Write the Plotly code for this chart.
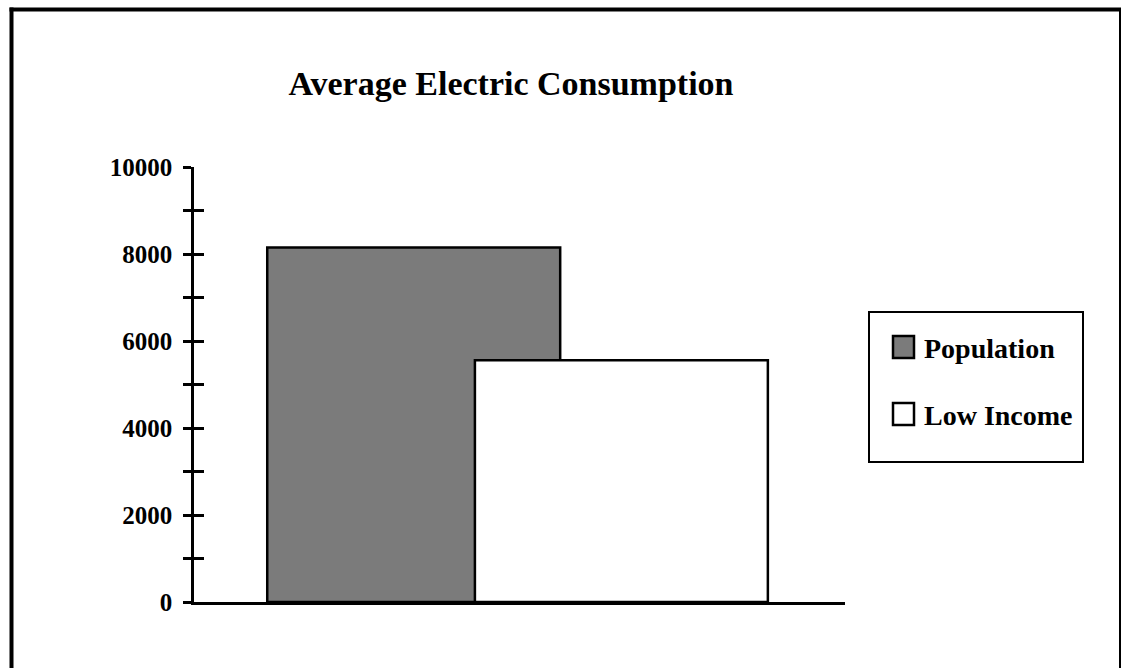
import plotly.graph_objects as go

# Data
series_names = ["Population", "Low Income"]
series_values = [8150, 5560]
series_fills = ["#7b7b7b", "#ffffff"]
category = ["Average Electric Consumption"]
tick_values = [0, 1000, 2000, 3000, 4000, 5000, 6000, 7000, 8000, 9000, 10000]
tick_labels = ["0", "", "2000", "", "4000", "", "6000", "", "8000", "", "10000"]

FONT = "Liberation Serif"
W, H = 1123, 668
L, R, T, B = 194, 278, 167, 66
PW, PH = W - L - R, H - T - B


def px_x(px):
    return (px - L) / PW


def px_y(py):
    return (H - B - py) / PH


fig = go.Figure()

# overlapping bars, second drawn over first
bar_offsets = [-0.3875, -0.0685]
for name, val, fill, off in zip(series_names, series_values, series_fills, bar_offsets):
    fig.add_trace(go.Bar(
        x=category, y=[val], name=name,
        offset=off, width=0.45,
        marker=dict(color=fill, line=dict(color="black", width=2.5)),
        showlegend=False,
    ))

# invisible trace on the secondary axis so its inward ticks render
fig.add_trace(go.Scatter(x=category, y=[None], yaxis="y2", showlegend=False))

fig.update_layout(
    width=W, height=H,
    margin=dict(l=L, r=R, t=T, b=B),
    paper_bgcolor="white", plot_bgcolor="white",
    barmode="overlay",
    font=dict(family=FONT, color="black"),
    title=dict(
        text="<b>Average Electric Consumption</b>",
        x=511 / W, xref="container", xanchor="center",
        y=1 - 83 / H, yref="container", yanchor="middle",
        font=dict(family=FONT, size=34, color="black"),
    ),
    xaxis=dict(
        type="category", range=[-0.5, 0.5],
        showgrid=False, zeroline=False,
        showline=True, linecolor="black", linewidth=2.5,
        showticklabels=False, ticks="",
    ),
    yaxis=dict(
        range=[0, 10000],
        tickmode="array", tickvals=tick_values, ticktext=tick_labels,
        ticks="outside", ticklen=8, tickwidth=2.5, tickcolor="black",
        showline=True, linecolor="black", linewidth=2.5,
        showgrid=False, zeroline=False,
        ticklabelstandoff=6,
        tickfont=dict(family=FONT, size=25, color="black", weight="bold"),
    ),
    yaxis2=dict(
        range=[0, 10000], overlaying="y", side="left",
        tickmode="array", tickvals=tick_values,
        ticks="inside", ticklen=10, tickwidth=2.5, tickcolor="black",
        showticklabels=False, showline=False, showgrid=False, zeroline=False,
    ),
)

shapes = []
# outer frame
shapes.append(dict(type="line", xref="paper", yref="paper",
                   x0=px_x(11.5), x1=px_x(11.5), y0=px_y(7.5), y1=px_y(700),
                   line=dict(color="black", width=4)))
shapes.append(dict(type="line", xref="paper", yref="paper",
                   x0=px_x(9.5), x1=px_x(1121), y0=px_y(9.5), y1=px_y(9.5),
                   line=dict(color="black", width=4)))
shapes.append(dict(type="line", xref="paper", yref="paper",
                   x0=px_x(1120), x1=px_x(1120), y0=px_y(8), y1=px_y(700),
                   line=dict(color="black", width=2)))

# legend box
shapes.append(dict(type="rect", xref="paper", yref="paper",
                   x0=px_x(869), x1=px_x(1083), y0=px_y(462), y1=px_y(312),
                   line=dict(color="black", width=2), fillcolor="white"))

annotations = []
legend_rows = [(336, 358, 348), (403, 425, 415)]
for name, fill, (top, bot, mid) in zip(series_names, series_fills, legend_rows):
    shapes.append(dict(type="rect", xref="paper", yref="paper",
                       x0=px_x(893), x1=px_x(914), y0=px_y(bot), y1=px_y(top),
                       line=dict(color="black", width=2.5), fillcolor=fill))
    annotations.append(dict(
        xref="paper", yref="paper", x=px_x(922), y=px_y(mid),
        xanchor="left", yanchor="middle", showarrow=False,
        text="<b>" + name + "</b>",
        font=dict(family=FONT, size=28, color="black"),
    ))

fig.update_layout(shapes=shapes, annotations=annotations)

fig.write_html("out.html")
